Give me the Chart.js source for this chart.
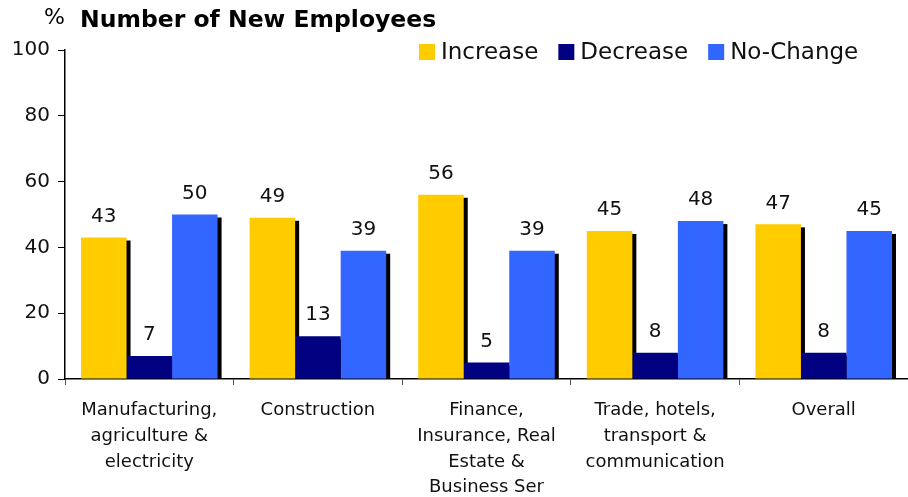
<!DOCTYPE html>
<html>
<head>
<meta charset="utf-8">
<script src="https://cdn.jsdelivr.net/npm/chart.js@4"></script>
<style>
  html, body { margin: 0; padding: 0; background: #fff; }
  #wrap { width: 908px; height: 497px; position: relative; }
</style>
</head>
<body>
<div id="wrap"><canvas id="myChart"></canvas></div>
<script>
const labels = [
  ['Manufacturing,', 'agriculture &', 'electricity'],
  ['Construction'],
  ['Finance,', 'Insurance, Real', 'Estate &', 'Business Ser'],
  ['Trade, hotels,', 'transport &', 'communication'],
  ['Overall']
];
const increase = [43, 49, 56, 45, 47];
const decrease = [7, 13, 5, 8, 8];
const noChange = [50, 39, 39, 48, 45];
const yTicks = [0, 20, 40, 60, 80, 100];

const FONT = '"DejaVu Sans", Verdana, sans-serif';

// black drop shadow behind every bar
const shadowPlugin = {
  id: 'shadow',
  beforeDatasetsDraw(chart) {
    const ctx = chart.ctx;
    ctx.save();
    ctx.fillStyle = '#000';
    chart.data.datasets.forEach((ds, i) => {
      chart.getDatasetMeta(i).data.forEach(bar => {
        const w = bar.width;
        ctx.fillRect(bar.x - w / 2 + 4, bar.y + 3, w, bar.base - bar.y - 3);
      });
    });
    ctx.restore();
  }
};

// value labels, title, legend
const textPlugin = {
  id: 'texts',
  afterDatasetsDraw(chart) {
    const ctx = chart.ctx;
    ctx.save();
    ctx.fillStyle = '#111';
    ctx.font = '20px ' + FONT;
    ctx.textAlign = 'center';
    ctx.textBaseline = 'middle';
    chart.data.datasets.forEach((ds, i) => {
      chart.getDatasetMeta(i).data.forEach((bar, j) => {
        ctx.fillText(Math.round(ds.data[j]), bar.x, bar.y - 21);
      });
    });

    // title
    ctx.textAlign = 'left';
    ctx.fillStyle = '#000';
    ctx.font = '22px ' + FONT;
    ctx.fillText('%', 44, 18);
    ctx.font = 'bold 23.5px ' + FONT;
    ctx.fillText('Number of New Employees', 80, 21);

    // legend
    const items = chart.data.datasets;
    let x = 419;
    ctx.font = '23px ' + FONT;
    items.forEach(ds => {
      ctx.fillStyle = ds.backgroundColor;
      ctx.fillRect(x, 44, 16, 16);
      ctx.fillStyle = '#111';
      ctx.fillText(ds.label, x + 22, 53);
      x += 22 + ctx.measureText(ds.label).width + 20;
    });
    ctx.restore();
  }
};

const data = {
  labels: labels,
  datasets: [
    { label: 'Increase', backgroundColor: '#FFCC00', data: increase },
    { label: 'Decrease', backgroundColor: '#000080', data: decrease },
    { label: 'No-Change', backgroundColor: '#3366FF', data: noChange }
  ]
};

const config = {
  type: 'bar',
  data: data,
  options: {
    responsive: true,
    maintainAspectRatio: false,
    animation: false,
    layout: { padding: { top: 50, left: 0, right: 0, bottom: 0 } },
    datasets: { bar: { categoryPercentage: 0.81, barPercentage: 1 } },
    plugins: { legend: { display: false }, tooltip: { enabled: false } },
    scales: {
      x: {
        grid: { offset: true, drawOnChartArea: false, color: '#555', tickLength: 6 },
        border: { color: '#000', width: 1.5 },
        ticks: { color: '#111', font: { family: FONT, size: 18, lineHeight: 1.42 }, padding: 13, maxRotation: 0, autoSkip: false },
        afterFit(axis) { axis.height = 118; }
      },
      y: {
        min: 0, max: 100,
        afterBuildTicks(axis) { axis.ticks = yTicks.map(v => ({ value: v })); },
        grid: { drawOnChartArea: false, color: '#000', tickLength: 7 },
        border: { color: '#000', width: 1.5 },
        ticks: { color: '#111', font: { family: FONT, size: 20 }, padding: 8 },
        afterFit(axis) { axis.width = 65; }
      }
    }
  },
  plugins: [shadowPlugin, textPlugin]
};

const myChart = new Chart(document.getElementById('myChart'), config);
</script>
</body>
</html>
